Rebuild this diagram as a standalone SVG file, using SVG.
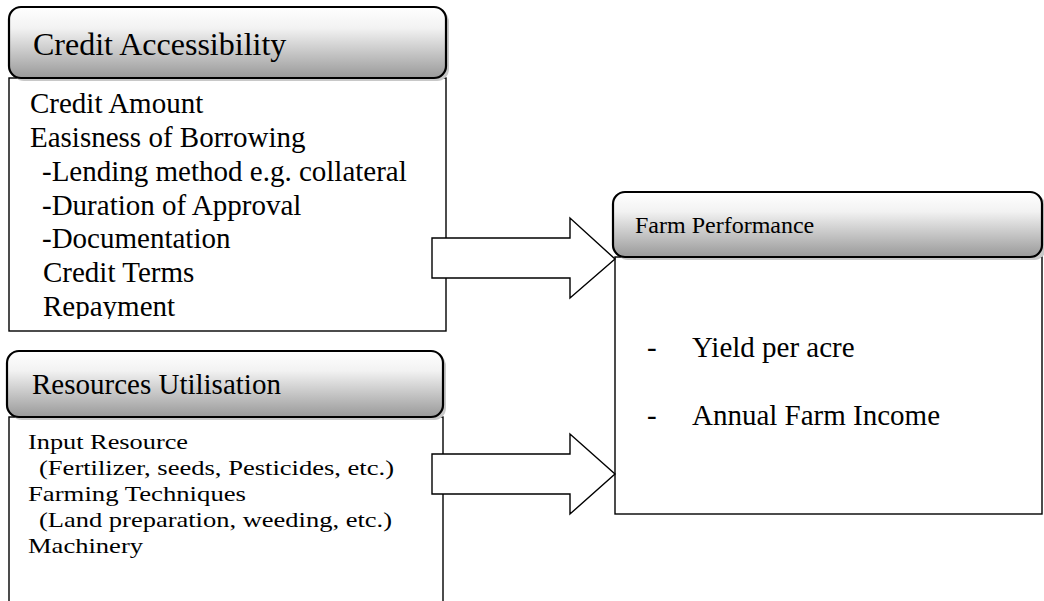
<svg xmlns="http://www.w3.org/2000/svg" width="1044" height="601" viewBox="0 0 1044 601">
<defs>
<linearGradient id="hg" x1="0" y1="0" x2="0" y2="1">
<stop offset="0" stop-color="#ffffff"/>
<stop offset="0.3" stop-color="#f2f2f2"/>
<stop offset="1" stop-color="#999999"/>
</linearGradient>
<clipPath id="c1"><rect x="9" y="78" width="437" height="241"/></clipPath>
<clipPath id="c2"><rect x="9" y="417" width="434" height="184"/></clipPath>
</defs>
<style>
.hdr{fill:url(#hg);stroke:#000;stroke-width:2.2}
.shd{fill:#c8c8c8}
.body{fill:#fff;stroke:#000;stroke-width:1.4}
.arrow{fill:#fff;stroke:#000;stroke-width:1.4;stroke-linejoin:miter}
text{font-family:"Liberation Serif","Times New Roman",serif;fill:#000}
.h1{font-size:32px}
.h2{font-size:29px}
.h3{font-size:24px}
.b1{font-size:29px}
.b2{font-size:22px}
.b3{font-size:29px}
</style>
<rect width="1044" height="601" fill="#fff"/>
<g id="credit-accessibility">
<rect class="body" x="9" y="78" width="437" height="253"/>
<rect class="shd" x="12" y="10" width="437" height="71" rx="12"/>
<rect class="hdr" x="9" y="7" width="437" height="71" rx="12"/>
<text class="h1" x="33" y="55">Credit Accessibility</text>
<g clip-path="url(#c1)">
<text class="b1" x="30" y="113">Credit Amount</text>
<text class="b1" x="30" y="147">Easisness of Borrowing</text>
<text class="b1" x="42" y="181">-Lending method e.g. collateral</text>
<text class="b1" x="42" y="215">-Duration of Approval</text>
<text class="b1" x="42" y="248">-Documentation</text>
<text class="b1" x="43" y="282">Credit Terms</text>
<text class="b1" x="43" y="316">Repayment</text>
</g>
</g>
<g id="resources-utilisation">
<rect class="body" x="9" y="417" width="434" height="200"/>
<rect class="shd" x="10" y="354" width="436" height="66" rx="12"/>
<rect class="hdr" x="7" y="351" width="436" height="66" rx="12"/>
<text class="h2" x="32" y="394">Resources Utilisation</text>
<g clip-path="url(#c2)">
<text class="b2" x="28" y="449" textLength="160" lengthAdjust="spacingAndGlyphs">Input Resource</text>
<text class="b2" x="39" y="475" textLength="355" lengthAdjust="spacingAndGlyphs">(Fertilizer, seeds, Pesticides, etc.)</text>
<text class="b2" x="28" y="501" textLength="218" lengthAdjust="spacingAndGlyphs">Farming Techniques</text>
<text class="b2" x="39" y="527" textLength="353" lengthAdjust="spacingAndGlyphs">(Land preparation, weeding, etc.)</text>
<text class="b2" x="28" y="553" textLength="115" lengthAdjust="spacingAndGlyphs">Machinery</text>
</g>
</g>
<g id="farm-performance">
<rect class="body" x="615" y="257" width="427" height="257"/>
<rect class="shd" x="616" y="195" width="430" height="65" rx="12"/>
<rect class="hdr" x="613" y="192" width="429" height="65" rx="12"/>
<text class="h3" x="635" y="233">Farm Performance</text>
<text class="b3" x="647" y="357">-</text>
<text class="b3" x="692" y="357">Yield per acre</text>
<text class="b3" x="647" y="425">-</text>
<text class="b3" x="692" y="425">Annual Farm Income</text>
</g>
<g id="connectors">
<polygon class="arrow" points="432,238 570,238 570,218 615,259 570,298 570,278 432,278"/>
<polygon class="arrow" points="432,454 570,454 570,434 615,474 570,514 570,494 432,494"/>
</g>
</svg>
